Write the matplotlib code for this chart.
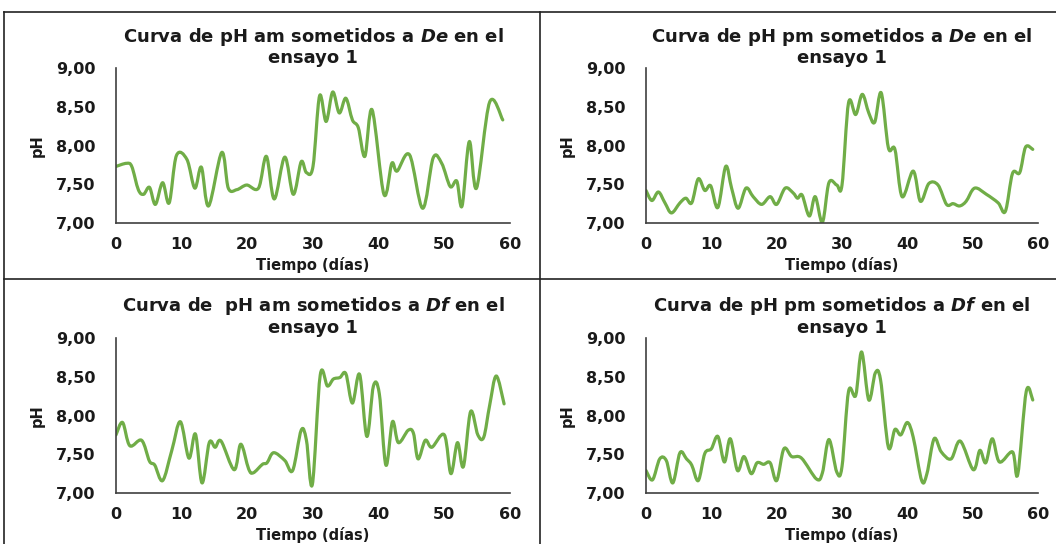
import matplotlib
matplotlib.use("Agg")
import matplotlib.pyplot as plt
from matplotlib.path import Path
from matplotlib.patches import PathPatch
from matplotlib.lines import Line2D
import numpy as np

plt.rcParams["font.family"] = ["DejaVu Sans"]
plt.rcParams["mathtext.fontset"] = "custom"
plt.rcParams["mathtext.it"] = "DejaVu Sans:bold:italic"
plt.rcParams["mathtext.rm"] = "DejaVu Sans:bold"

# ---- data: pH readings vs. day of trial ----
dias_am_de = [0, 1.6, 2.4, 3.4, 4.2, 5.1, 6.0, 7.1, 8.1, 9.2, 10.8, 12.0, 13.0, 14.1,
              16.1, 17.1, 18.4, 19.9, 21.7, 22.9, 24.1, 25.7, 27.0, 28.2, 29.0, 30.0,
              31.0, 32.0, 33.0, 34.0, 35.0, 36.0, 36.9, 37.9, 39.0, 40.8, 42.0, 42.8,
              44.7, 46.7, 48.3, 49.6, 50.9, 51.9, 52.7, 53.8, 54.9, 56.9, 58.9]
ph_am_de = [7.73, 7.77, 7.73, 7.43, 7.37, 7.46, 7.24, 7.52, 7.26, 7.87, 7.82, 7.45, 7.72, 7.22,
            7.91, 7.45, 7.43, 7.49, 7.45, 7.86, 7.31, 7.85, 7.37, 7.79, 7.65, 7.73,
            8.64, 8.31, 8.69, 8.42, 8.61, 8.33, 8.23, 7.86, 8.46, 7.37, 7.77, 7.67,
            7.88, 7.19, 7.84, 7.77, 7.47, 7.54, 7.22, 8.05, 7.45, 8.56, 8.33]

dias_pm_de = [0, 0.9, 1.9, 2.9, 3.9, 5.2, 6.1, 7.0, 8.0, 9.0, 9.9, 11.0, 12.2, 13.1, 14.1,
              15.3, 16.4, 17.7, 19.0, 20.0, 21.3, 22.5, 23.2, 23.9, 25.0, 25.9, 27.0, 28.0,
              29.2, 30.0, 31.0, 32.1, 33.1, 34.1, 35.0, 36.0, 37.1, 38.1, 39.2, 40.9, 42.0,
              43.3, 44.7, 46.0, 47.0, 48.0, 49.0, 50.3, 52.1, 53.9, 55.0, 56.1, 57.2, 58.1, 59.2]
ph_pm_de = [7.42, 7.29, 7.40, 7.26, 7.13, 7.26, 7.32, 7.26, 7.57, 7.42, 7.48, 7.20, 7.73, 7.45, 7.19,
            7.45, 7.34, 7.24, 7.34, 7.24, 7.45, 7.39, 7.32, 7.36, 7.09, 7.34, 7.01, 7.52,
            7.49, 7.49, 8.55, 8.40, 8.66, 8.42, 8.30, 8.68, 7.97, 7.95, 7.34, 7.67, 7.28,
            7.51, 7.49, 7.24, 7.25, 7.22, 7.28, 7.45, 7.37, 7.26, 7.15, 7.64, 7.65, 7.98, 7.95]

dias_am_df = [0, 1.0, 2.1, 3.9, 5.1, 5.9, 7.1, 8.5, 9.8, 11.1, 12.1, 13.1, 14.2, 15.1, 16.0,
              18.0, 19.0, 20.2, 20.9, 22.3, 23.0, 24.0, 25.7, 26.9, 28.2, 29.0, 29.9, 31.1,
              32.2, 33.1, 34.1, 35.0, 36.0, 37.1, 38.2, 39.2, 40.1, 41.1, 42.1, 43.0, 44.5,
              45.3, 46.0, 47.1, 48.1, 50.0, 51.0, 52.0, 52.9, 54.0, 55.1, 56.0, 56.9, 57.9, 59.1]
ph_am_df = [7.75, 7.91, 7.61, 7.68, 7.41, 7.36, 7.16, 7.55, 7.92, 7.45, 7.76, 7.13, 7.65, 7.59, 7.67,
            7.30, 7.63, 7.31, 7.26, 7.37, 7.39, 7.52, 7.42, 7.29, 7.81, 7.68, 7.11, 8.52,
            8.38, 8.47, 8.49, 8.54, 8.16, 8.53, 7.73, 8.38, 8.28, 7.36, 7.92, 7.65, 7.81,
            7.77, 7.44, 7.68, 7.59, 7.75, 7.25, 7.65, 7.34, 8.05, 7.75, 7.72, 8.13, 8.51, 8.15]

dias_pm_df = [0, 1.0, 2.1, 3.1, 4.1, 5.2, 6.2, 7.0, 8.0, 9.0, 10.0, 11.0, 12.0, 12.9, 14.0,
              15.0, 16.1, 17.0, 18.0, 19.0, 20.0, 21.1, 22.3, 23.8, 26.1, 27.0, 28.0, 29.2,
              30.0, 31.0, 32.1, 33.0, 34.1, 35.1, 35.9, 37.1, 38.1, 39.0, 40.0, 40.9, 42.2,
              43.0, 44.1, 45.2, 46.7, 48.1, 50.1, 51.1, 52.0, 53.0, 54.1, 56.1, 56.9, 58.2, 59.2]
ph_pm_df = [7.29, 7.17, 7.44, 7.42, 7.13, 7.52, 7.44, 7.36, 7.16, 7.51, 7.57, 7.73, 7.40, 7.70, 7.29,
            7.47, 7.25, 7.39, 7.37, 7.39, 7.16, 7.57, 7.47, 7.45, 7.18, 7.26, 7.69, 7.27,
            7.34, 8.31, 8.26, 8.82, 8.20, 8.55, 8.46, 7.59, 7.82, 7.75, 7.91, 7.72, 7.16,
            7.25, 7.70, 7.53, 7.44, 7.67, 7.30, 7.55, 7.39, 7.70, 7.40, 7.53, 7.24, 8.31, 8.20]

titulos = [
    ("Curva de pH am sometidos a $\\mathit{De}$ en el", "ensayo 1"),
    ("Curva de pH pm sometidos a $\\mathit{De}$ en el", "ensayo 1"),
    ("Curva de  pH am sometidos a $\\mathit{Df}$ en el", "ensayo 1"),
    ("Curva de pH pm sometidos a $\\mathit{Df}$ en el", "ensayo 1"),
]
series = [(dias_am_de, ph_am_de), (dias_pm_de, ph_pm_de),
          (dias_am_df, ph_am_df), (dias_pm_df, ph_pm_df)]
y_ticks = [7.0, 7.5, 8.0, 8.5, 9.0]
y_tick_labels = ["7,00", "7,50", "8,00", "8,50", "9,00"]
x_ticks = [0, 10, 20, 30, 40, 50, 60]

VERDE = "#70AD47"
W, H = 1056, 544


def smooth_path(x, y):
    """Cubic Bezier path through the points (Catmull-Rom style smoothing)."""
    p = np.column_stack([x, y]).astype(float)
    n = len(p)
    verts = [p[0]]
    codes = [Path.MOVETO]
    for i in range(n - 1):
        p0 = p[i - 1] if i > 0 else p[i]
        p1, p2 = p[i], p[i + 1]
        p3 = p[i + 2] if i + 2 < n else p[i + 1]
        c1 = p1 + (p2 - p0) / 6.0
        c2 = p2 - (p3 - p1) / 6.0
        verts += [c1, c2, p2]
        codes += [Path.CURVE4] * 3
    return Path(verts, codes)


fig = plt.figure(figsize=(W / 100, H / 100), dpi=100)

# axes boxes in pixels: left, right, top(y=9), bottom(y=7)
cajas = [(116, 510, 68, 223), (646, 1038, 68, 223),
         (116, 510, 338, 493), (646, 1038, 338, 493)]
titulo_y = [(37, 58), (37, 58), (306, 328), (306, 328)]

for (x0, x1, yt, yb), (t1, t2), (ty1, ty2), (dx, dy) in zip(cajas, titulos, titulo_y, series):
    ax = fig.add_axes([x0 / W, 1 - yb / H, (x1 - x0) / W, (yb - yt) / H])
    ax.add_patch(PathPatch(smooth_path(dx, dy), fill=False, edgecolor=VERDE,
                           linewidth=2.3, capstyle="round", joinstyle="round"))
    ax.set_xlim(0, 60)
    ax.set_ylim(7.0, 9.0)
    ax.set_yticks(y_ticks)
    ax.set_yticklabels(y_tick_labels)
    ax.set_xticks(x_ticks)
    for s in ("top", "right"):
        ax.spines[s].set_visible(False)
    for s in ("left", "bottom"):
        ax.spines[s].set_color("#404040")
        ax.spines[s].set_linewidth(1.2)
    ax.tick_params(length=0, labelsize=11.5, colors="#1a1a1a")
    ax.tick_params(axis="y", pad=15)
    ax.tick_params(axis="x", pad=10)
    for lab in ax.get_xticklabels() + ax.get_yticklabels():
        lab.set_fontweight("bold")
    ax.set_ylabel("pH", fontsize=10.5, fontweight="bold", labelpad=8, color="#1a1a1a")
    ax.set_xlabel("Tiempo (días)", fontsize=10.5, fontweight="bold", labelpad=4, color="#1a1a1a")
    xc = (x0 + x1) / 2 / W
    fig.text(xc, 1 - ty1 / H, t1, ha="center", va="center", fontsize=13,
             fontweight="bold", color="#1a1a1a")
    fig.text(xc, 1 - ty2 / H, t2, ha="center", va="center", fontsize=13,
             fontweight="bold", color="#1a1a1a")

# panel frame lines
def hline(y, xa, xb):
    fig.add_artist(Line2D([xa / W, xb / W], [1 - y / H, 1 - y / H],
                          transform=fig.transFigure, color="#222222", linewidth=1.2))

def vline(x, ya, yb):
    fig.add_artist(Line2D([x / W, x / W], [1 - ya / H, 1 - yb / H],
                          transform=fig.transFigure, color="#222222", linewidth=1.2))

hline(12, 4, W)
hline(279, 4, W)
vline(4, 12, H)
vline(540, 12, H)

fig.savefig("out.png", dpi=100, facecolor="white")
